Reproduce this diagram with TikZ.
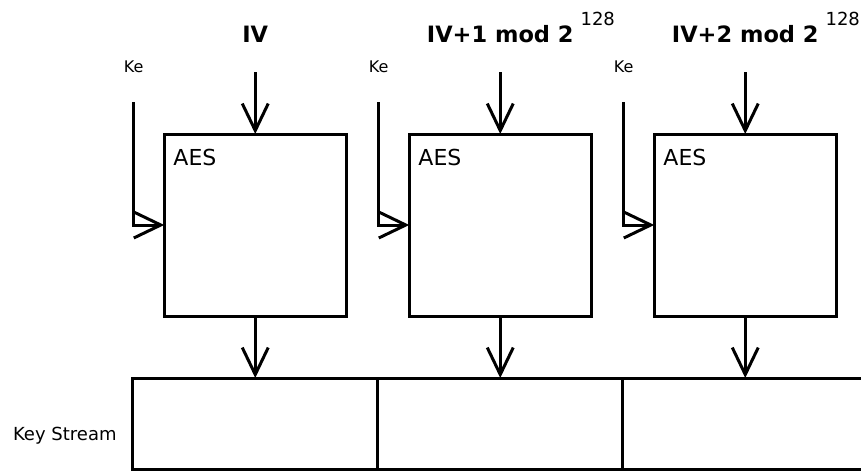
\documentclass[tikz,border=0pt]{standalone}
\usepackage{fontspec}
\setmainfont{DejaVu Sans}
\usetikzlibrary{positioning,arrows.meta}

\begin{document}
\begin{tikzpicture}[x=1pt, y=-1pt,
    node distance=63pt,
    aes/.style={draw, line width=3pt, minimum width=182pt, minimum height=182pt,
      outer sep=0pt, inner sep=0pt},
    cell/.style={draw, line width=3pt, minimum width=245pt, minimum height=91pt,
      outer sep=0pt, inner sep=0pt},
    arrow/.style={-{Straight Barb[length=27pt,width=26pt]}, line width=3pt},
    ivlabel/.style={anchor=base, inner sep=0pt, font=\fontsize{22.5}{26}\selectfont\bfseries},
    kelabel/.style={anchor=base, inner sep=0pt, font=\fontsize{16}{19}\selectfont},
    aeslabel/.style={anchor=base west, inner sep=0pt, font=\fontsize{22}{26}\selectfont}
  ]
    \useasboundingbox (0,0) rectangle (861,471);
    % AES blocks
    \node[aes] (aes1) at (255.25,225) {};
    \node[aes, right=of aes1] (aes2) {};
    \node[aes, right=of aes2] (aes3) {};
    \node[aeslabel] (aes1t) at ([xshift=9pt, yshift=-31pt]aes1.north west) {AES};
    \node[aeslabel] (aes2t) at ([xshift=9pt, yshift=-31pt]aes2.north west) {AES};
    \node[aeslabel] (aes3t) at ([xshift=9pt, yshift=-31pt]aes3.north west) {AES};
    % counter inputs
    \node[ivlabel] (iv1) at (aes1.north |- 0,42) {IV};
    \node[ivlabel] (iv2) at (aes2.north |- 0,42)
      {IV+1 mod 2\rlap{\hspace{7pt}\raisebox{17pt}{\mdseries\fontsize{18}{20}\selectfont 128}}};
    \node[ivlabel] (iv3) at (aes3.north |- 0,42)
      {IV+2 mod 2\rlap{\hspace{7pt}\raisebox{17pt}{\mdseries\fontsize{18}{20}\selectfont 128}}};
    \coordinate (in1) at (aes1.north |- 0,72);
    \coordinate (in2) at (aes2.north |- 0,72);
    \coordinate (in3) at (aes3.north |- 0,72);
    \draw[arrow] (in1) -- (aes1.north);
    \draw[arrow] (in2) -- (aes2.north);
    \draw[arrow] (in3) -- (aes3.north);
    % key inputs
    \coordinate (ke1) at ([xshift=-30.5pt]aes1.west |- 0,102);
    \coordinate (ke2) at ([xshift=-30.5pt]aes2.west |- 0,102);
    \coordinate (ke3) at ([xshift=-30.5pt]aes3.west |- 0,102);
    \node[kelabel] (ke1t) at (ke1 |- 0,72) {Ke};
    \node[kelabel] (ke2t) at (ke2 |- 0,72) {Ke};
    \node[kelabel] (ke3t) at (ke3 |- 0,72) {Ke};
    \draw[arrow] (ke1) |- (aes1.west);
    \draw[arrow] (ke2) |- (aes2.west);
    \draw[arrow] (ke3) |- (aes3.west);
    % key stream
    \node[cell] (cell1) at (255.25,423.5) {};
    \node[cell, right=0pt of cell1] (cell2) {};
    \node[cell, right=0pt of cell2] (cell3) {};
    \node[anchor=base east, inner sep=0pt, font=\fontsize{18}{21}\selectfont]
      (ks) at ([xshift=-16pt]cell1.west |- 0,440) {Key Stream};
    \draw[arrow] (aes1.south) -- (cell1.north);
    \draw[arrow] (aes2.south) -- (cell2.north);
    \draw[arrow] (aes3.south) -- (cell3.north);
  \end{tikzpicture}
\end{document}
